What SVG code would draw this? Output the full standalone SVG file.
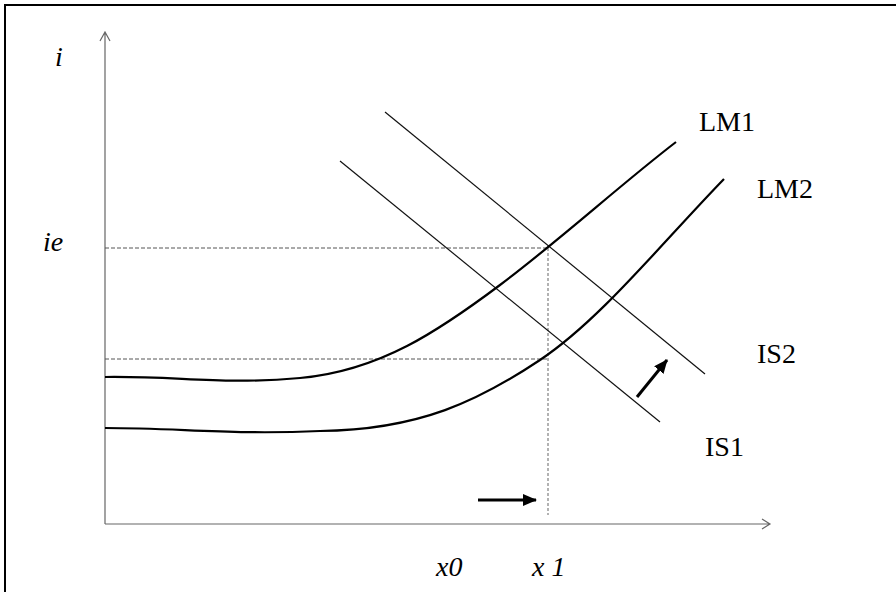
<svg xmlns="http://www.w3.org/2000/svg" width="896" height="592" viewBox="0 0 896 592">
<defs>
<style>
.frame{fill:none;stroke:#000;stroke-width:2}
.axis{fill:none;stroke:#666;stroke-width:1.2}
.dashH{fill:none;stroke:#555;stroke-width:1;stroke-dasharray:4 2}
.dashV{fill:none;stroke:#999;stroke-width:1.5;stroke-dasharray:3 2}
.is{fill:none;stroke:#111;stroke-width:1.2}
.lm{fill:none;stroke:#000;stroke-width:2.2}
.arr{fill:none;stroke:#000;stroke-width:3}
.lbl{font-family:"Liberation Serif","Times New Roman",serif;font-size:28px;fill:#000}
.ital{font-style:italic}
</style>
<marker id="ah" viewBox="0 0 14 12" refX="13" refY="6" markerUnits="userSpaceOnUse" markerWidth="14" markerHeight="12" orient="auto">
<path d="M0,0 L14,6 L0,12 Z" fill="#000"/>
</marker>
</defs>
<rect x="0" y="0" width="896" height="592" fill="#fff"/>
<rect class="frame" x="5" y="5" width="900" height="600"/>
<g id="axes">
<path class="axis" d="M105,524 V32 M100,41 L105,32 L110,41"/>
<path class="axis" d="M105,524 H770 M762,519 L770,524 L762,529"/>
</g>
<g id="guides">
<path class="dashH" d="M105,248 H548"/>
<path class="dashH" d="M105,359 H548"/>
<path class="dashV" d="M548,248 V515"/>
</g>
<g id="IS1"><path class="is" d="M340,161 L660,422"/></g>
<g id="IS2"><path class="is" d="M385,112 L705,374"/></g>
<g id="LM1"><path class="lm" d="M105,377 C180,376 220,385 300,378 C380,371 440,330 500,285 C560,240 620,185 676,142"/></g>
<g id="LM2"><path class="lm" d="M105,428 C180,428 230,435 320,431 C420,430 480,400 540,360 C600,320 660,245 724,179"/></g>
<g id="connectors">
<path class="arr" d="M478,500 H536" marker-end="url(#ah)"/>
<path class="arr" d="M637,397 L667,360" marker-end="url(#ah)"/>
</g>
<g id="labels">
<text class="lbl ital" x="55" y="66">i</text>
<text class="lbl ital" x="43" y="251">ie</text>
<text class="lbl ital" x="436" y="576">x0</text>
<text class="lbl ital" x="532" y="576">x 1</text>
<text class="lbl" x="699" y="131">LM1</text>
<text class="lbl" x="757" y="198">LM2</text>
<text class="lbl" x="757" y="363">IS2</text>
<text class="lbl" x="705" y="456">IS1</text>
</g>
</svg>
